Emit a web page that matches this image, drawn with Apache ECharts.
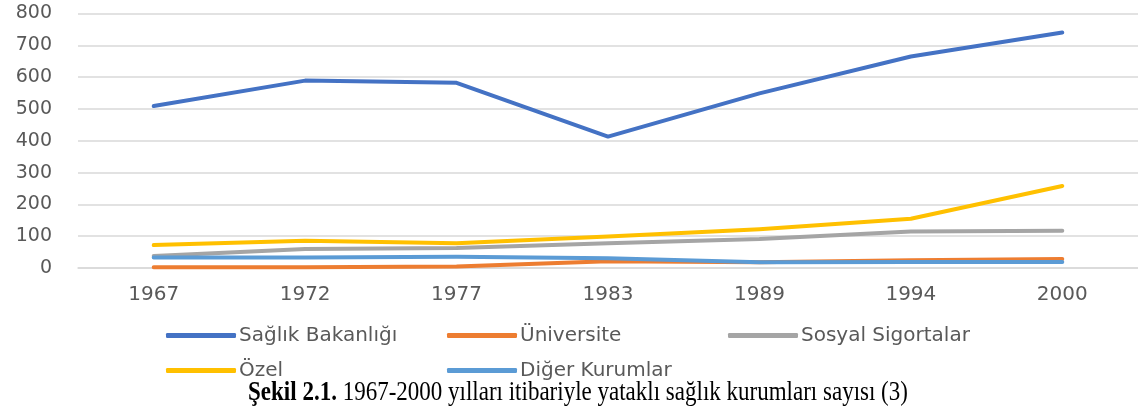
<!DOCTYPE html>
<html><head><meta charset="utf-8">
<script src="https://cdn.jsdelivr.net/npm/echarts@6/dist/echarts.min.js"></script>
<style>html,body{margin:0;padding:0;background:#fff}#c{width:1138px;height:412px}</style>
</head><body><div id="c"></div>
<script>
var years = ['1967','1972','1977','1983','1989','1994','2000'];
var saglikBakanligi = [509, 589, 582, 413, 549, 665, 740];
var universite = [2, 2, 5, 21, 18, 24, 28];
var sosyalSigortalar = [38, 60, 63, 78, 91, 115, 117];
var ozel = [72, 86, 78, 99, 122, 155, 258];
var digerKurumlar = [33, 33, 35, 31, 18, 19, 19];
var seriesNames = ['Sağlık Bakanlığı','Üniversite','Sosyal Sigortalar','Özel','Diğer Kurumlar'];
var colors = ['#4472C4','#ED7D31','#A5A5A5','#FFC000','#5B9BD5'];
var yTicks = {min:0, max:800, interval:100};
var caption = 'Şekil 2.1.';
var captionRest = ' 1967-2000 yılları itibariyle yataklı sağlık kurumları sayısı (3)';

var dataArr = [saglikBakanligi, universite, sosyalSigortalar, ozel, digerKurumlar];
var chart = echarts.init(document.getElementById('c'), null, {renderer:'canvas'});
chart.setOption({
  animation:false,
  color: colors,
  grid:{left:78, right:0, top:13.5, bottom:144, containLabel:false},
  graphic:[{
    type:'text', x:578, y:393, scaleY:1.2, originX:0, originY:0,
    style:{
      text:'{b|' + caption + '}{r|' + captionRest + '}',
      align:'center', verticalAlign:'middle',
      rich:{
        b:{fontFamily:'Liberation Serif', fontWeight:'bold', fontSize:23, fill:'#000', color:'#000'},
        r:{fontFamily:'Liberation Serif', fontWeight:'normal', fontSize:23, fill:'#000', color:'#000'}
      }
    }
  }],
  legend:{
    left:161, top:318, width:860,
    icon:'roundRect', itemWidth:70, itemHeight:5, itemGap:10,
    data: seriesNames,
    textStyle:{fontFamily:'DejaVu Sans', fontSize:20, color:'#595959', width:198, lineHeight:25, padding:[0,0,0,-2]}
  },
  xAxis:{
    type:'category', data:years, boundaryGap:true,
    axisLine:{lineStyle:{color:'#D9D9D9', width:1.5}},
    axisTick:{show:false},
    axisLabel:{fontFamily:'DejaVu Sans', fontSize:20, color:'#595959', margin:17}
  },
  yAxis:{
    type:'value', min:yTicks.min, max:yTicks.max, interval:yTicks.interval,
    axisLine:{show:false}, axisTick:{show:false},
    splitLine:{lineStyle:{color:'#D9D9D9', width:1.5}},
    axisLabel:{fontFamily:'DejaVu Sans', fontSize:19, color:'#595959', margin:26}
  },
  series: seriesNames.map(function(n,i){
    return {name:n, type:'line', data:dataArr[i], showSymbol:false, symbol:'none',
      lineStyle:{width:4, color:colors[i], cap:'round', join:'round'}, itemStyle:{color:colors[i]}};
  })
});
</script></body></html>
